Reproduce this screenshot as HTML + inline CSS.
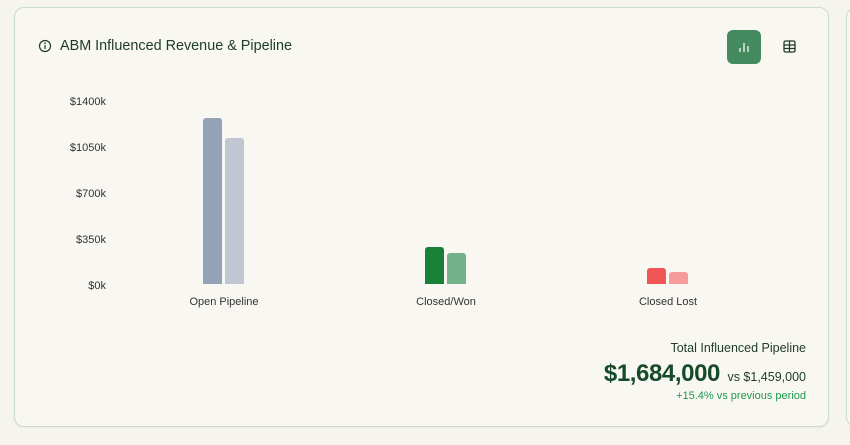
<!DOCTYPE html>
<html><head><style>
body{margin:0;width:850px;height:445px;background:#f6f4ee;font-family:"Liberation Sans",sans-serif;position:relative;overflow:hidden}
.card{position:absolute;left:14px;top:7px;width:813px;height:418px;border:1px solid #c9dccd;border-radius:10px;background:#f8f7f2;box-shadow:0 1px 2px rgba(0,0,0,.05)}
.card2{position:absolute;left:846px;top:7px;width:40px;height:418px;border:1px solid #c9dccd;border-radius:10px;background:#f8f7f2}
.t{position:absolute;font-size:14.4px;color:#1e3a2a}
.yl{position:absolute;right:744px;font-size:11px;color:#333;text-align:right}
.b{position:absolute;border-radius:3px 3px 0 0}
.xl{position:absolute;font-size:11px;color:#333;text-align:center;width:120px}
</style></head><body>
<div class="card"></div><div class="card2"></div>
<svg style="position:absolute;left:38px;top:39px" width="14" height="14"><circle cx="7" cy="7" r="5.5" fill="none" stroke="#1e3a2a" stroke-width="1.2"/><line x1="7" y1="6" x2="7" y2="10" stroke="#1e3a2a" stroke-width="1.2"/><circle cx="7" cy="4.2" r=".8" fill="#1e3a2a"/></svg>
<div class="t" style="left:60px;top:38px">ABM Influenced Revenue &amp; Pipeline</div>
<div style="position:absolute;left:727px;top:30px;width:34px;height:34px;border-radius:6px;background:#438a5e"></div>
<svg style="position:absolute;left:738px;top:41px" width="12" height="12"><path d="M2 11V7M6 11V2M10 11V5" stroke="#fff" stroke-width="1.2"/></svg>
<svg style="position:absolute;left:783px;top:40px" width="13" height="13"><rect x="1" y="1" width="11" height="11" rx="1.5" fill="none" stroke="#1e3a2a" stroke-width="1.3"/><path d="M1 5h11M1 8.5h11M6.5 1v11" stroke="#1e3a2a" stroke-width="1.2"/></svg>
<div class="yl" style="top:96px">$1400k</div>
<div class="yl" style="top:142px">$1050k</div>
<div class="yl" style="top:188px">$700k</div>
<div class="yl" style="top:234px">$350k</div>
<div class="yl" style="top:280px">$0k</div>
<div class="b" style="left:203px;top:118px;width:19px;height:166px;background:#94a2b8"></div>
<div class="b" style="left:225px;top:138px;width:19px;height:146px;background:#c0c7d0"></div>
<div class="b" style="left:425px;top:247px;width:19px;height:37px;background:#198038"></div>
<div class="b" style="left:447px;top:253px;width:19px;height:31px;background:#72b38a"></div>
<div class="b" style="left:647px;top:268px;width:19px;height:16px;background:#f25555"></div>
<div class="b" style="left:669px;top:272px;width:19px;height:12px;background:#f79a9a"></div>
<div class="xl" style="left:164px;top:296px">Open Pipeline</div>
<div class="xl" style="left:386px;top:296px">Closed/Won</div>
<div class="xl" style="left:608px;top:296px">Closed Lost</div>
<div style="position:absolute;right:44px;top:341px;font-size:12.5px;color:#1e3a2a">Total Influenced Pipeline</div>
<div style="position:absolute;right:44px;top:360px;color:#1e3a2a;white-space:nowrap"><span style="font-size:24px;font-weight:bold;color:#174a2a;letter-spacing:-0.4px">$1,684,000</span> <span style="font-size:12.5px;margin-left:3px">vs $1,459,000</span></div>
<div style="position:absolute;right:44px;top:390px;font-size:11px;color:#1f9a4e">+15.4% vs previous period</div>
</body></html>
